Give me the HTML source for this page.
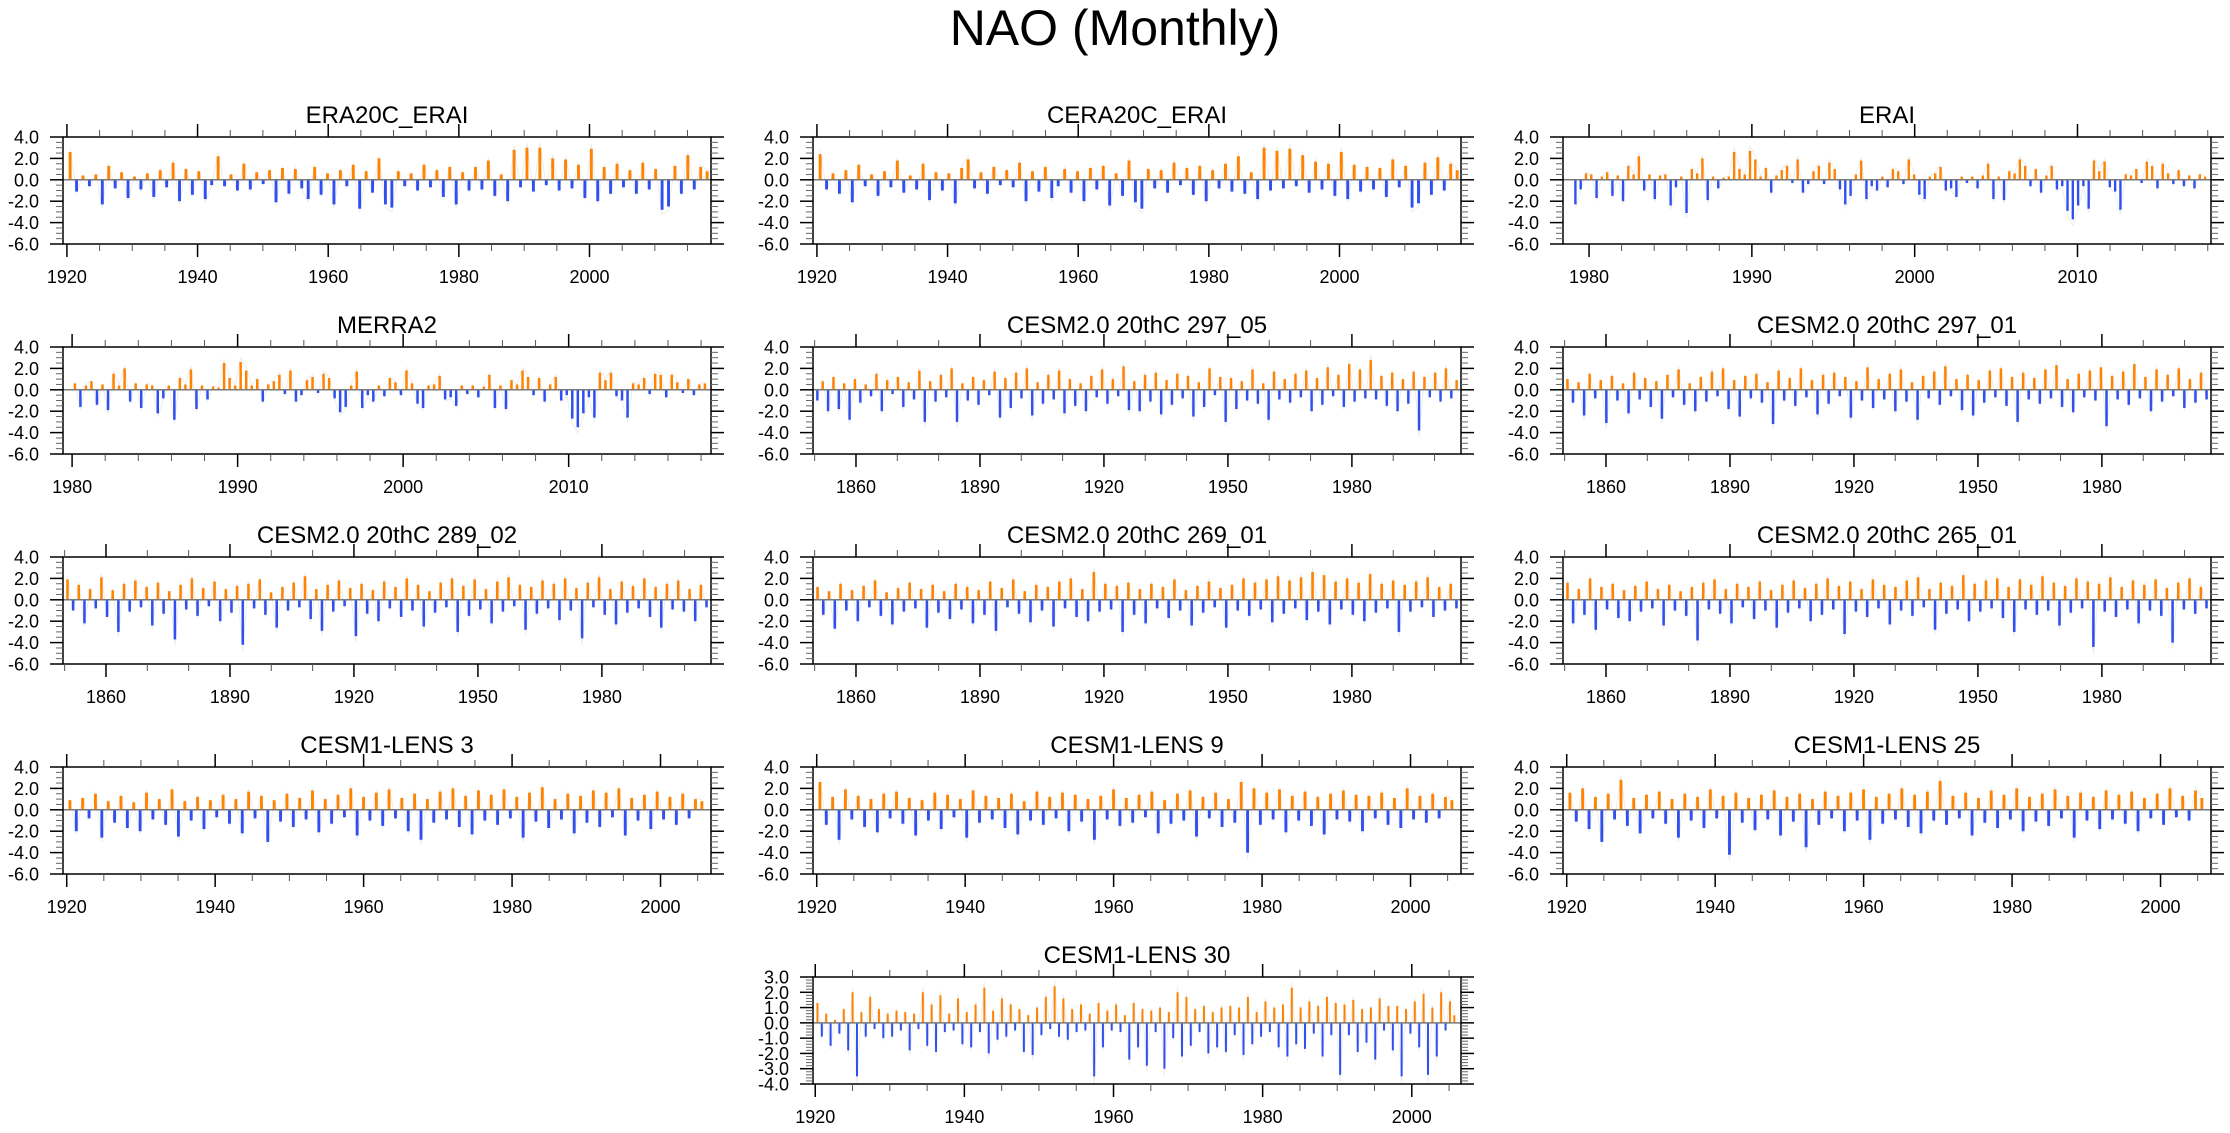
<!DOCTYPE html>
<html><head><meta charset="utf-8"><title>NAO (Monthly)</title>
<style>
html,body{margin:0;padding:0;background:#fff;}
svg{display:block;font-family:"Liberation Sans",Arial,sans-serif;}
</style></head>
<body>
<svg id="fig" width="2230" height="1133" viewBox="0 0 2230 1133" xmlns="http://www.w3.org/2000/svg">
<rect x="0" y="0" width="2230" height="1133" fill="#fff"/>
<text x="1115" y="45" font-size="50" text-anchor="middle" fill="#000">NAO (Monthly)</text>
</svg>
<script>
// ---- data ----
const era20c = [2.6,-1.1,0.4,-0.6,0.5,-2.3,1.3,-0.8,0.7,-1.7,0.3,-0.9,0.6,-1.6,0.9,-0.7,1.6,-2.0,1.0,-1.4,0.8,-1.8,-0.5,2.2,-0.6,0.5,-1.0,1.5,-0.9,0.7,-0.4,0.9,-2.1,1.1,-1.3,1.0,-0.8,-1.8,1.2,-1.4,0.6,-2.3,0.9,-0.6,1.4,-2.7,0.8,-1.2,2.0,-2.3,-2.6,0.8,-0.6,0.6,-1.0,1.4,-0.7,0.9,-1.6,1.2,-2.3,0.7,-1.0,1.2,-0.9,1.8,-1.5,0.5,-2.0,2.8,-0.7,3.0,-1.1,3.0,-0.5,2.0,-1.0,1.9,-0.8,1.4,-1.7,2.9,-2.0,1.2,-1.3,1.5,-0.7,0.9,-1.3,1.6,-0.9,1.0,-2.8,-2.5,1.3,-1.3,2.3,-0.9,1.2,0.8];
const cera20c = [2.4,-0.9,0.6,-1.3,0.9,-2.1,1.4,-0.6,0.5,-1.5,0.8,-0.7,1.8,-1.2,0.4,-0.9,1.5,-1.9,0.7,-1.0,0.6,-2.2,1.1,1.9,-0.8,0.7,-1.3,1.2,-0.5,0.9,-0.7,1.6,-2.0,0.8,-1.1,1.2,-1.7,-0.6,1.0,-1.2,0.8,-2.0,1.1,-0.9,1.3,-2.4,0.6,-1.5,1.8,-2.1,-2.7,1.0,-0.8,0.9,-1.2,1.6,-0.5,1.1,-1.4,1.3,-2.0,0.9,-0.8,1.5,-1.1,2.2,-1.3,0.7,-1.8,3.0,-1.0,2.7,-0.8,2.9,-0.6,2.3,-1.2,1.7,-0.9,1.5,-1.5,2.6,-1.8,1.4,-1.1,1.2,-0.9,1.1,-1.6,1.9,-0.7,1.3,-2.6,-2.2,1.6,-1.4,2.1,-1.0,1.5,0.9];
const erai = [-2.3,-0.9,0.6,0.5,-1.7,0.3,0.7,-1.5,0.4,-2.0,1.3,0.5,2.2,-1.0,0.5,-1.8,0.4,0.5,-2.4,-0.7,0.3,-3.1,1.0,0.6,2.0,-1.9,0.3,-0.8,0.2,0.3,2.6,1.0,0.5,2.7,1.9,0.3,1.1,-1.2,0.4,0.9,1.3,-0.3,1.9,-1.2,-0.4,0.8,1.3,-0.4,1.6,1.0,-0.9,-2.3,-1.5,0.5,1.8,-1.8,-0.6,-1.0,0.3,-0.7,1.0,0.8,-0.4,1.9,0.5,-1.4,-1.8,0.3,0.6,1.2,-1.0,-0.8,-1.6,0.3,-0.3,0.3,-0.8,0.4,1.5,-1.8,0.3,-1.9,0.8,0.6,1.9,1.3,-0.6,1.0,-1.2,0.4,1.3,-0.9,-0.6,-2.9,-3.7,-2.4,-0.6,-2.7,1.8,0.8,1.7,-0.7,-1.1,-2.8,0.5,0.4,1.0,-0.3,1.7,1.3,-0.8,1.5,0.6,-0.4,0.9,-0.6,0.4,-0.8,0.5,0.3];
const merra2 = [0.6,-1.6,0.4,0.8,-1.4,0.5,-1.9,1.5,0.4,2.0,-1.1,0.6,-1.7,0.5,0.4,-2.2,-0.8,0.4,-2.8,1.1,0.5,1.9,-1.8,0.4,-0.9,0.3,0.2,2.5,1.1,0.4,2.6,1.8,0.4,1.0,-1.1,0.5,0.8,1.4,-0.4,1.8,-1.1,-0.5,0.9,1.2,-0.3,1.5,1.1,-0.8,-2.1,-1.6,0.4,1.7,-1.7,-0.5,-1.1,0.4,-0.6,1.1,0.7,-0.5,1.8,0.6,-1.3,-1.7,0.4,0.5,1.3,-0.9,-0.7,-1.5,0.4,-0.4,0.4,-0.7,0.3,1.4,-1.7,0.4,-1.8,0.9,0.5,1.8,1.2,-0.5,1.1,-1.1,0.5,1.2,-1.0,-0.5,-2.7,-3.5,-2.2,-0.7,-2.6,1.6,0.9,1.6,-0.6,-1.0,-2.6,0.6,0.5,1.1,-0.4,1.5,1.4,-0.7,1.4,0.7,-0.3,1.0,-0.5,0.5,0.6];
const c297_05 = [-1.0,0.8,-2.0,1.2,-1.8,0.6,-2.8,1.0,-1.2,0.5,-0.6,1.5,-2.0,0.9,-0.4,1.2,-1.6,0.7,-0.9,1.8,-3.0,0.8,-1.1,1.4,-0.7,2.0,-3.0,0.6,-1.0,1.2,-1.4,0.9,-0.5,1.7,-2.6,1.1,-1.7,1.6,-0.8,2.0,-2.4,0.7,-1.3,1.4,-0.9,1.8,-2.2,1.0,-1.5,0.6,-2.0,1.3,-0.7,1.9,-1.3,1.0,-0.6,2.2,-1.9,0.8,-2.0,1.4,-1.1,1.6,-2.3,0.9,-1.4,1.5,-0.8,1.3,-2.5,0.7,-1.6,2.0,-0.5,1.2,-3.0,1.1,-1.8,0.8,-1.0,1.9,-1.3,0.6,-2.8,1.7,-0.9,1.0,-1.2,1.5,-0.7,1.8,-2.0,1.1,-1.4,2.1,-0.6,1.4,-1.6,2.4,-1.1,1.9,-0.8,2.8,-0.9,1.3,-1.5,1.6,-2.0,1.0,-1.3,1.7,-3.8,1.2,-0.7,1.6,-1.1,2.0,-0.8,0.9];
const c297_01 = [1.0,-1.2,0.7,-2.4,1.5,-0.8,0.9,-3.1,1.3,-1.0,0.6,-2.2,1.6,-0.9,1.1,-1.6,0.8,-2.7,1.4,-0.7,1.9,-1.4,0.6,-2.0,1.2,-1.1,1.7,-0.6,2.0,-1.8,0.9,-2.5,1.3,-0.8,1.5,-1.2,0.7,-3.2,1.8,-1.0,1.1,-1.5,2.0,-0.7,0.9,-2.3,1.4,-1.3,1.6,-0.6,1.2,-2.6,0.8,-1.0,2.1,-1.7,1.0,-0.9,1.5,-2.0,1.9,-1.1,0.7,-2.8,1.3,-0.8,1.7,-1.4,2.2,-0.6,1.0,-1.9,1.4,-2.4,0.9,-1.2,1.8,-0.7,2.0,-1.5,1.2,-3.0,1.6,-0.9,1.1,-1.3,1.9,-0.8,2.3,-1.6,1.0,-2.1,1.5,-0.7,1.8,-1.0,2.1,-3.4,1.3,-0.9,1.7,-1.4,2.4,-0.8,1.2,-2.0,1.9,-1.1,1.4,-0.6,2.0,-1.7,1.0,-1.2,1.6,-0.9];
const c289_02 = [1.9,-1.0,1.4,-2.2,1.0,-0.8,2.1,-1.6,0.9,-3.0,1.5,-1.1,1.8,-0.7,1.2,-2.4,1.6,-1.3,0.8,-3.7,1.4,-0.9,2.0,-1.5,1.1,-0.6,1.7,-2.0,1.0,-1.2,1.3,-4.2,1.5,-0.8,1.9,-1.4,0.7,-2.6,1.2,-1.0,1.6,-0.7,2.2,-1.8,1.0,-2.9,1.4,-1.1,1.8,-0.6,1.1,-3.4,1.5,-1.3,0.9,-2.0,1.7,-0.8,1.2,-1.6,2.0,-1.0,1.4,-2.5,0.8,-1.2,1.6,-0.7,2.0,-3.0,1.3,-1.5,1.9,-0.9,1.0,-2.2,1.7,-1.1,2.1,-0.6,1.4,-2.8,1.2,-1.3,1.8,-0.8,1.5,-1.9,2.0,-1.0,1.1,-3.6,1.6,-0.7,2.1,-1.4,1.0,-2.3,1.7,-1.2,1.3,-0.8,2.0,-1.6,1.2,-2.6,1.5,-0.9,1.8,-1.1,1.0,-2.0,1.4,-0.7];
const c269_01 = [1.2,-1.4,0.8,-2.7,1.5,-1.0,0.9,-2.0,1.3,-0.7,1.8,-1.5,0.7,-2.3,1.1,-1.1,1.6,-0.8,1.0,-2.6,1.4,-1.2,0.8,-1.8,1.5,-0.9,1.2,-2.2,0.9,-1.4,1.7,-2.9,1.1,-0.7,1.9,-1.3,0.8,-2.1,1.4,-1.0,1.2,-2.5,1.7,-0.8,2.0,-1.6,1.0,-2.0,2.6,-1.1,1.5,-0.9,1.3,-3.0,1.6,-1.4,1.0,-2.2,1.5,-0.8,1.2,-1.7,1.9,-1.0,0.9,-2.4,1.3,-1.2,1.7,-0.7,1.1,-2.6,1.4,-1.0,2.0,-1.5,1.6,-0.9,1.9,-2.1,2.2,-1.3,1.8,-0.8,2.1,-1.9,2.6,-1.1,2.3,-2.3,1.7,-0.9,2.0,-1.4,1.6,-2.0,2.4,-1.2,1.5,-0.8,1.8,-3.0,1.4,-1.1,1.7,-0.7,2.1,-1.6,1.2,-1.0,1.5,-0.8];
const c265_01 = [1.6,-2.2,1.0,-1.4,2.0,-2.8,1.2,-0.9,1.5,-1.7,0.9,-2.0,1.3,-1.1,1.7,-0.8,1.0,-2.4,1.4,-1.0,0.8,-1.5,1.2,-3.8,1.6,-0.9,1.9,-1.3,1.0,-2.2,1.5,-0.7,1.2,-1.8,1.7,-1.0,0.9,-2.6,1.4,-1.2,1.8,-0.8,1.1,-2.0,1.5,-1.4,2.0,-0.9,1.3,-3.2,1.7,-1.1,1.0,-1.6,1.9,-0.8,1.4,-2.3,1.2,-1.0,1.8,-1.5,2.1,-0.7,1.0,-2.8,1.6,-1.3,1.3,-0.9,2.3,-2.0,1.5,-1.1,1.8,-0.8,2.0,-1.7,1.2,-3.0,1.9,-0.9,1.4,-1.4,2.2,-1.0,1.6,-2.4,1.3,-1.2,2.0,-0.8,1.7,-4.4,1.5,-1.1,2.1,-1.6,1.2,-0.9,1.8,-2.2,1.4,-1.0,1.9,-1.5,1.1,-4.0,1.6,-0.9,2.0,-1.3,1.2,-0.8];
const lens3 = [0.9,-2.0,1.1,-0.8,1.5,-2.6,0.8,-1.2,1.3,-1.7,0.7,-2.0,1.6,-0.9,1.0,-1.4,1.9,-2.5,0.8,-1.0,1.2,-1.8,0.9,-0.7,1.4,-1.3,1.0,-2.2,1.7,-0.8,1.3,-3.0,0.9,-1.1,1.5,-1.6,1.1,-0.9,1.8,-2.1,1.0,-1.3,1.4,-0.7,2.0,-2.4,1.2,-1.0,1.6,-1.5,1.9,-0.8,1.1,-2.0,1.5,-2.8,1.0,-1.2,1.7,-0.9,2.0,-1.6,1.3,-2.3,1.8,-1.0,1.4,-1.4,1.9,-0.8,1.2,-2.6,1.6,-1.1,2.1,-1.7,1.0,-0.9,1.5,-2.2,1.3,-1.2,1.8,-1.6,1.6,-0.7,2.0,-2.4,1.1,-1.0,1.4,-1.8,1.7,-0.9,1.2,-1.4,1.5,-0.8,1.0,0.8];
const lens9 = [2.6,-1.4,1.2,-2.8,1.9,-0.9,1.3,-1.6,1.0,-2.1,1.5,-0.8,1.7,-1.3,1.1,-2.4,0.9,-1.0,1.6,-1.8,1.4,-0.7,1.0,-2.6,1.8,-1.2,1.3,-0.9,1.1,-1.7,1.5,-2.3,0.8,-1.0,1.7,-1.4,1.2,-0.8,1.6,-2.0,1.4,-1.1,1.0,-2.8,1.3,-0.9,1.9,-1.5,1.1,-1.2,1.4,-0.7,1.7,-2.2,0.9,-1.3,1.5,-1.0,1.8,-2.5,1.2,-0.8,1.6,-1.6,1.0,-1.2,2.6,-4.0,2.0,-1.4,1.6,-0.9,1.9,-2.1,1.3,-1.0,1.7,-1.5,1.2,-2.3,1.5,-0.9,1.8,-1.1,1.4,-2.0,1.3,-0.8,1.6,-1.4,1.1,-1.7,2.0,-0.9,1.3,-1.2,1.5,-0.8,1.2,0.9];
const lens25 = [1.6,-1.1,2.0,-1.8,1.2,-3.0,1.5,-0.9,2.8,-1.5,1.1,-2.2,1.4,-0.8,1.7,-1.3,1.0,-2.6,1.5,-1.0,1.2,-1.7,1.9,-0.8,1.3,-4.2,1.6,-1.2,1.1,-1.9,1.4,-0.9,1.8,-2.4,1.2,-1.1,1.5,-3.5,1.0,-1.4,1.7,-0.8,1.3,-2.0,1.6,-1.0,1.9,-2.8,1.2,-1.3,1.5,-0.9,2.0,-1.6,1.4,-2.2,1.7,-1.0,2.7,-1.4,1.3,-0.8,1.6,-2.4,1.1,-1.2,1.8,-1.7,1.4,-0.9,2.0,-2.0,1.2,-1.1,1.5,-1.5,1.9,-0.8,1.3,-2.6,1.6,-1.0,1.2,-1.8,1.8,-0.9,1.4,-1.3,1.7,-2.0,1.1,-0.8,1.5,-1.4,2.0,-0.7,1.3,-1.0,1.8,1.1];
const lens30 = [1.3,-0.9,0.6,-1.5,0.2,-0.7,0.9,-1.8,2.0,-3.5,0.7,-0.9,1.7,-0.4,0.9,-1.0,0.6,-0.9,0.8,-0.5,0.7,-1.8,0.6,-0.4,2.0,-1.5,1.2,-1.9,1.8,-0.6,0.6,-0.5,1.6,-1.4,0.7,-1.6,1.2,-0.6,2.3,-2.0,0.8,-1.1,1.6,-0.9,1.2,-0.5,0.9,-1.9,0.5,-2.1,1.0,-0.8,1.7,-0.4,2.4,-0.9,1.6,-1.1,0.9,-0.6,1.2,-0.5,0.6,-3.5,1.3,-1.6,0.8,-0.5,1.2,-0.6,0.5,-2.4,1.3,-1.6,0.9,-2.8,0.8,-0.6,1.0,-3.0,0.7,-1.0,2.0,-2.2,1.7,-1.5,0.9,-0.6,1.1,-2.0,0.7,-1.6,1.0,-1.9,1.1,-0.8,1.0,-2.1,1.7,-1.4,0.7,-0.9,1.4,-0.6,1.0,-1.6,1.2,-2.2,2.3,-1.4,1.0,-1.7,1.4,-0.7,1.1,-2.2,1.7,-0.8,1.3,-3.4,1.2,-0.8,1.5,-1.9,0.9,-1.3,1.0,-2.4,1.6,-0.5,1.1,-1.8,1.1,-3.5,0.9,-0.7,1.4,-1.6,1.9,-3.4,1.0,-2.2,2.0,-0.5,1.4,0.5];

// tick labels
const yTicks46 = ["4.0","2.0","0.0","-2.0","-4.0","-6.0"];
const yTicks34 = ["3.0","2.0","1.0","0.0","-1.0","-2.0","-3.0","-4.0"];

// ---- layout ----
const COLX = [63, 813, 1563];
const ROWY = [137, 347, 557, 767, 977];
const W = 648, H = 107;
const ORANGE = "#ff8200", BLUE = "#2f4ff0";

const panels = [
 {id:"era20c-erai", title:"ERA20C_ERAI", data:era20c, c:0, r:0, x0:1919.4, x1:2018.6, d0:1920, d1:2018.5, maj:20, min:5, y:"a"},
 {id:"cera20c-erai", title:"CERA20C_ERAI", data:cera20c, c:1, r:0, x0:1919.4, x1:2018.6, d0:1920, d1:2018.5, maj:20, min:5, y:"a"},
 {id:"erai", title:"ERAI", data:erai, c:2, r:0, x0:1978.4, x1:2018.2, d0:1979, d1:2018, maj:10, min:2, y:"a"},
 {id:"merra2", title:"MERRA2", data:merra2, c:0, r:1, x0:1979.45, x1:2018.6, d0:1980, d1:2018.4, maj:10, min:2, y:"a"},
 {id:"cesm2-297-05", title:"CESM2.0 20thC 297_05", data:c297_05, c:1, r:1, x0:1849.6, x1:2006.4, d0:1850, d1:2006, maj:30, min:10, y:"a"},
 {id:"cesm2-297-01", title:"CESM2.0 20thC 297_01", data:c297_01, c:2, r:1, x0:1849.6, x1:2006.4, d0:1850, d1:2006, maj:30, min:10, y:"a"},
 {id:"cesm2-289-02", title:"CESM2.0 20thC 289_02", data:c289_02, c:0, r:2, x0:1849.6, x1:2006.4, d0:1850, d1:2006, maj:30, min:10, y:"a"},
 {id:"cesm2-269-01", title:"CESM2.0 20thC 269_01", data:c269_01, c:1, r:2, x0:1849.6, x1:2006.4, d0:1850, d1:2006, maj:30, min:10, y:"a"},
 {id:"cesm2-265-01", title:"CESM2.0 20thC 265_01", data:c265_01, c:2, r:2, x0:1849.6, x1:2006.4, d0:1850, d1:2006, maj:30, min:10, y:"a"},
 {id:"cesm1-lens-3", title:"CESM1-LENS 3", data:lens3, c:0, r:3, x0:1919.5, x1:2006.8, d0:1920, d1:2006, maj:20, min:5, y:"a"},
 {id:"cesm1-lens-9", title:"CESM1-LENS 9", data:lens9, c:1, r:3, x0:1919.5, x1:2006.8, d0:1920, d1:2006, maj:20, min:5, y:"a"},
 {id:"cesm1-lens-25", title:"CESM1-LENS 25", data:lens25, c:2, r:3, x0:1919.5, x1:2006.8, d0:1920, d1:2006, maj:20, min:5, y:"a"},
 {id:"cesm1-lens-30", title:"CESM1-LENS 30", data:lens30, c:1, r:4, x0:1919.7, x1:2006.6, d0:1920, d1:2006, maj:20, min:5, y:"b"}
];

const NS = "http://www.w3.org/2000/svg";
const svg = document.getElementById("fig");
function mk(tag, attrs, parent){
  const e = document.createElementNS(NS, tag);
  for (const k in attrs) e.setAttribute(k, attrs[k]);
  parent.appendChild(e);
  return e;
}

panels.forEach(p => {
  const L = COLX[p.c], T = ROWY[p.r], R = L + W, B = T + H;
  const ymin = p.y === "a" ? -6 : -4, ymax = p.y === "a" ? 4 : 3;
  const ymaj = p.y === "a" ? 2 : 1, ymin2 = p.y === "a" ? 0.5 : 0.2;
  const labels = p.y === "a" ? yTicks46 : yTicks34;
  const xs = v => L + (v - p.x0) / (p.x1 - p.x0) * W;
  const ys = v => T + (ymax - v) / (ymax - ymin) * H;

  const g = mk("g", {}, svg);
  
  

  const t = mk("text", {x: L + W/2, y: T - 14, "font-size": 24, "text-anchor": "middle", fill: "#000"}, g);
  
  
  t.textContent = p.title;

  const n = p.data.length;
  const step = (p.d1 - p.d0) / n;
  const y0 = ys(0);

  // faint gray background trace
  let d = "";
  p.data.forEach((v, i) => {
    const cx = xs(p.d0 + (i + 0.5) * step);
    d += (i ? "L" : "M") + cx.toFixed(1) + " " + ys(v * 1.15).toFixed(1);
  });
  const tr = mk("path", {d: d, fill: "none", stroke: "#ececec", "stroke-width": 1}, g);
  
  

  // bars
  const bars = mk("g", {}, g);
  
  
  const bw = Math.max(1, (xs(p.d0 + step) - xs(p.d0)) * 0.45);
  p.data.forEach((v, i) => {
    const cx = xs(p.d0 + (i + 0.5) * step);
    const yv = ys(v);
    const r = mk("rect", {x: (cx - bw/2).toFixed(2), y: Math.min(yv, y0).toFixed(2), width: bw.toFixed(2), height: Math.abs(yv - y0).toFixed(2), fill: v >= 0 ? ORANGE : BLUE}, bars);
    
    
  });

  const z = mk("line", {x1: L, x2: R, y1: y0, y2: y0, stroke: "#7a7a7a", "stroke-width": 1.5}, g);
  
  

  const frame = mk("rect", {x: L, y: T, width: W, height: H, fill: "none", stroke: "#000", "stroke-width": 1.5}, g);
  
  

  // ticks
  const tk = mk("g", {stroke: "#000", "stroke-width": 1.2}, g);
  
  
  for (let yr = Math.ceil(p.x0 / p.min) * p.min; yr <= p.x1; yr += p.min) {
    const x = xs(yr), major = yr % p.maj === 0, len = major ? 13 : 7;
    mk("line", {x1: x, x2: x, y1: T, y2: T - len, "stroke-width": major ? 1.5 : 1, stroke: major ? "#000" : "#555"}, tk);
    mk("line", {x1: x, x2: x, y1: B, y2: B + len, "stroke-width": major ? 1.5 : 1, stroke: major ? "#000" : "#555"}, tk);
    if (major) {
      const lt = mk("text", {x: x, y: B + 39, "font-size": 18, "text-anchor": "middle", fill: "#000", stroke: "none"}, g);
      
      
      lt.textContent = String(yr);
    }
  }
  const nm = Math.round((ymax - ymin) / ymin2);
  for (let k = 0; k <= nm; k++) {
    const v = ymin + k * ymin2, y = ys(v);
    const major = Math.abs(v / ymaj - Math.round(v / ymaj)) < 1e-6, len = major ? 13 : 7;
    mk("line", {x1: L, x2: L - len, y1: y, y2: y, "stroke-width": major ? 1.5 : 1, stroke: major ? "#000" : "#666"}, tk);
    mk("line", {x1: R, x2: R + len, y1: y, y2: y, "stroke-width": major ? 1.5 : 1, stroke: major ? "#000" : "#666"}, tk);
  }
  labels.forEach((s, i) => {
    const v = ymax - i * ymaj;
    const lt = mk("text", {x: L - 24, y: ys(v) + 6.5, "font-size": 18, "text-anchor": "end", fill: "#000"}, g);
    
    
    lt.textContent = s;
  });
});
</script>
</body></html>
